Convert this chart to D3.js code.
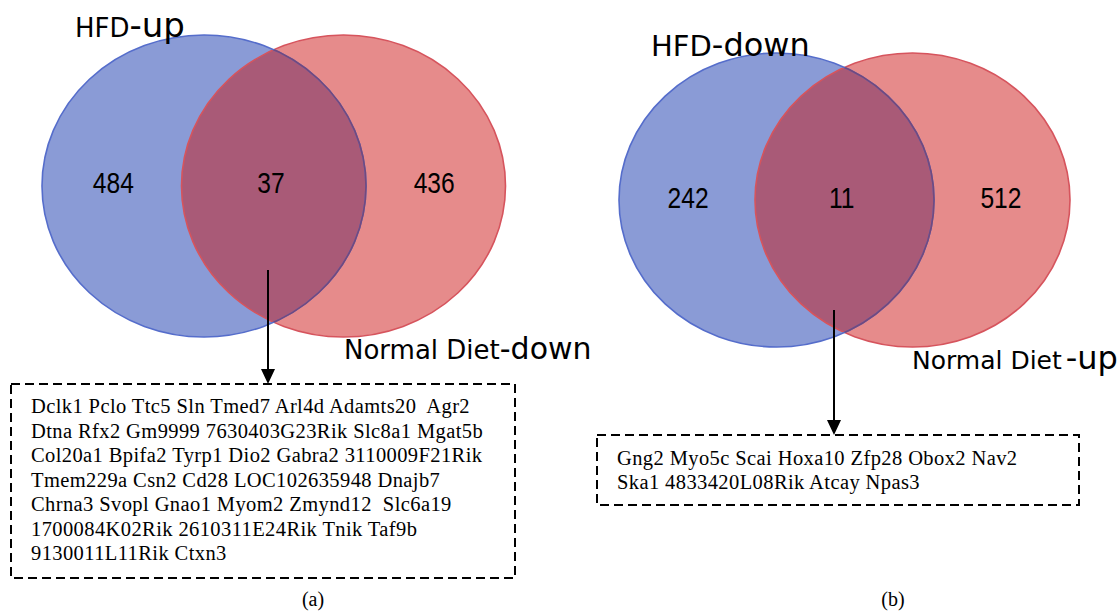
<!DOCTYPE html>
<html>
<head>
<meta charset="utf-8">
<script src="https://cdn.jsdelivr.net/npm/d3@7"></script>
<style>
  html, body { margin: 0; padding: 0; background: #fff; }
  svg { display: block; }
</style>
</head>
<body>
<script>
// ---- data ----
const panelTags = ["(a)", "(b)"];
const leftSetNames = ["HFD", "HFD"];
const leftSetSuffix = ["-up", "-down"];
const rightSetNames = ["Normal Diet", "Normal Diet"];
const rightSetSuffix = ["-down", "-up"];
const onlyLeftCounts = [484, 242];
const sharedCounts = [37, 11];
const onlyRightCounts = [436, 512];
const sharedGenesA = [
  "Dclk1 Pclo Ttc5 Sln Tmed7 Arl4d Adamts20  Agr2",
  "Dtna Rfx2 Gm9999 7630403G23Rik Slc8a1 Mgat5b",
  "Col20a1 Bpifa2 Tyrp1 Dio2 Gabra2 3110009F21Rik",
  "Tmem229a Csn2 Cd28 LOC102635948 Dnajb7",
  "Chrna3 Svopl Gnao1 Myom2 Zmynd12  Slc6a19",
  "1700084K02Rik 2610311E24Rik Tnik Taf9b",
  "9130011L11Rik Ctxn3"
];
const sharedGenesB = [
  "Gng2 Myo5c Scai Hoxa10 Zfp28 Obox2 Nav2",
  "Ska1 4833420L08Rik Atcay Npas3"
];
const sharedGeneLines = [sharedGenesA, sharedGenesB];

// ---- layout of the two panels ----
const panels = [
  { c0: 204, c1: 343.5, cy: 186, rx: 162, ry: 151,
    lblY: 193, leftLbl: [75, 37, 26, 34], rightLbl: [344, 359, 26, 30],
    arrowX: 268, arrowTop: 270,
    box: [11, 384, 515, 578], textX: 31, textY: 413, lineGap: 24.5,
    tag: [313, 606] },
  { c0: 776.5, c1: 912.5, cy: 200, rx: 157.5, ry: 147,
    lblY: 208, leftLbl: [651, 56, 29, 32], rightLbl: [912, 369, 25, 32],
    arrowX: 834, arrowTop: 310,
    box: [597, 435, 1079, 505], textX: 617, textY: 465, lineGap: 24,
    tag: [893, 606] }
];

const W = 1120, H = 613;
const svg = d3.select("body").append("svg")
  .attr("width", W).attr("height", H);
const defs = svg.append("defs");

const sans = "'DejaVu Sans', sans-serif";
const narrow = "'Liberation Sans', Arial, sans-serif";
const serif = "'Liberation Serif', 'Times New Roman', serif";

panels.forEach((p, i) => {
  // unit scale: 0 = left set centre, 1 = right set centre
  const x = d3.scaleLinear().domain([0, 1]).range([p.c0, p.c1]);
  const g = svg.append("g");

  const ell = (sel, u) => sel
    .attr("cx", x(u)).attr("cy", p.cy).attr("rx", p.rx).attr("ry", p.ry);

  const clipId = "clipRight" + i;
  ell(defs.append("clipPath").attr("id", clipId).append("ellipse"), 1);

  // fills
  ell(g.append("ellipse"), 0).attr("fill", "#8a9bd6");
  ell(g.append("ellipse"), 1).attr("fill", "#e68b8b");
  ell(g.append("ellipse"), 0).attr("fill", "#a95a77")
    .attr("clip-path", `url(#${clipId})`);

  // outlines
  ell(g.append("ellipse"), 1).attr("fill", "none")
    .attr("stroke", "#d6545d").attr("stroke-width", 1.6);
  ell(g.append("ellipse"), 0).attr("fill", "none")
    .attr("stroke", "#556dcb").attr("stroke-width", 1.6);
  ell(g.append("ellipse"), 0).attr("fill", "none")
    .attr("stroke", "#72497d").attr("stroke-width", 1.6)
    .attr("clip-path", `url(#${clipId})`);

  // region counts
  const counts = [
    { u: -0.65, v: onlyLeftCounts[i] },
    { u: 0.48, v: sharedCounts[i] },
    { u: 1.65, v: onlyRightCounts[i] }
  ];
  g.selectAll("text.count").data(counts).join("text")
    .attr("class", "count")
    .attr("transform", d => `translate(${x(d.u)},${p.lblY}) scale(0.82,1)`)
    .attr("text-anchor", "middle")
    .attr("font-family", narrow).attr("font-size", 30)
    .attr("fill", "#000")
    .text(d => d.v);

  // set names
  const lt = g.append("text")
    .attr("x", p.leftLbl[0]).attr("y", p.leftLbl[1])
    .attr("font-family", sans).attr("fill", "#000");
  lt.append("tspan").attr("font-size", p.leftLbl[2]).text(leftSetNames[i]);
  lt.append("tspan").attr("font-size", p.leftLbl[3]).text(leftSetSuffix[i]);

  const rt = g.append("text")
    .attr("x", p.rightLbl[0]).attr("y", p.rightLbl[1])
    .attr("font-family", sans).attr("fill", "#000");
  rt.append("tspan").attr("font-size", p.rightLbl[2]).text(rightSetNames[i]);
  rt.append("tspan").attr("font-size", p.rightLbl[3])
    .attr("dx", i === 1 ? 4 : 0).text(rightSetSuffix[i]);

  // arrow from the shared region down to the gene list
  const [bx0, by0, bx1, by1] = p.box;
  g.append("line")
    .attr("x1", p.arrowX).attr("x2", p.arrowX)
    .attr("y1", p.arrowTop).attr("y2", by0 - 12)
    .attr("stroke", "#000").attr("stroke-width", 2);
  g.append("path")
    .attr("d", d3.line()([[p.arrowX - 7, by0 - 15], [p.arrowX + 7, by0 - 15], [p.arrowX, by0]]) + "Z")
    .attr("fill", "#000");

  // dashed gene box
  g.append("rect")
    .attr("x", bx0).attr("y", by0)
    .attr("width", bx1 - bx0).attr("height", by1 - by0)
    .attr("fill", "none").attr("stroke", "#000")
    .attr("stroke-width", 2).attr("stroke-dasharray", "9,5");

  g.selectAll("text.gene").data(sharedGeneLines[i]).join("text")
    .attr("class", "gene")
    .attr("x", p.textX)
    .attr("y", (d, k) => p.textY + k * p.lineGap)
    .attr("font-family", serif).attr("font-size", 20.5)
    .attr("letter-spacing", 0.4)
    .attr("fill", "#000")
    .style("white-space", "pre")
    .text(d => d);

  g.append("text")
    .attr("x", p.tag[0]).attr("y", p.tag[1])
    .attr("text-anchor", "middle")
    .attr("font-family", serif).attr("font-size", 20)
    .attr("fill", "#000")
    .text(panelTags[i]);
});
</script>
</body>
</html>
